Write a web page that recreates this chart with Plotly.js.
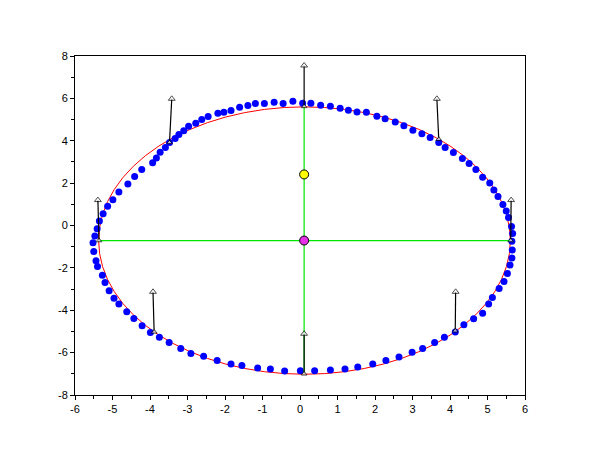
<!DOCTYPE html>
<html>
<head>
<meta charset="utf-8">
<script src="https://cdn.plot.ly/plotly-3.0.1.min.js"></script>
<style>html,body{margin:0;padding:0;background:#fff;}#chart{width:600px;height:452px;}</style>
</head>
<body>
<div id="chart"></div>
<script>
// Noisy sample points (blue)
var dotX = [5.65,5.67,5.64,5.56,5.50,5.41,5.28,5.17,5.06,4.87,4.69,4.51,4.33,4.09,3.87,3.70,3.47,3.25,3.01,2.77,
2.54,2.27,2.05,1.77,1.52,1.29,1.07,0.81,0.55,0.29,0.07,-0.19,-0.45,-0.69,-0.95,-1.19,-1.39,-1.61,-1.84,-2.03,
-2.19,-2.45,-2.62,-2.78,-2.97,-3.10,-3.23,-3.33,-3.48,-3.59,-3.73,-3.83,-3.93,-4.22,-4.41,-4.59,-4.83,-4.99,-5.13,-5.25,
-5.35,-5.41,-5.47,-5.52,-5.50,-5.44,-5.40,-5.27,-5.20,-5.09,-4.96,-4.83,-4.62,-4.43,-4.21,-3.99,-3.75,-3.49,-3.18,-2.91,
-2.57,-2.21,-1.84,-1.55,-1.13,-0.79,-0.41,0.01,0.39,0.81,1.20,1.54,1.94,2.29,2.64,2.99,3.27,3.59,3.85,4.14,
4.37,4.63,4.87,5.03,5.13,5.31,5.44,5.53,5.60,5.65,5.66];
var dotY = [-0.74,-0.38,-0.05,0.38,0.69,0.99,1.37,1.68,2.01,2.28,2.64,2.93,3.16,3.45,3.68,3.92,4.15,4.33,4.50,4.71,
4.88,5.04,5.16,5.35,5.36,5.44,5.53,5.63,5.68,5.77,5.77,5.86,5.76,5.82,5.76,5.76,5.66,5.58,5.43,5.35,
5.30,5.15,5.00,4.83,4.69,4.47,4.30,4.11,3.92,3.68,3.46,3.18,2.96,2.64,2.31,1.96,1.58,1.21,0.91,0.56,
0.21,-0.15,-0.49,-0.82,-1.23,-1.66,-1.94,-2.35,-2.69,-3.08,-3.43,-3.71,-4.07,-4.39,-4.73,-5.05,-5.27,-5.52,-5.80,-6.04,
-6.17,-6.37,-6.54,-6.61,-6.72,-6.77,-6.87,-6.86,-6.85,-6.82,-6.77,-6.68,-6.54,-6.37,-6.21,-5.98,-5.80,-5.52,-5.28,-5.03,
-4.68,-4.40,-4.14,-3.71,-3.40,-2.97,-2.64,-2.26,-1.87,-1.53,-1.16];

// Fitted ellipse (red)
var ellipseCX = 0.12, ellipseCY = -0.71, ellipseA = 5.49, ellipseB = 6.31;
// Special points
var centerPt = [0.11, -0.71];
var yellowPt = [0.11, 2.41];

// Arrows (base on ellipse -> tip)
var arrowBaseX = [0.11, 3.70, 5.62, 4.14, 0.11, -3.89, -5.36, -3.48];
var arrowBaseY = [5.62, 4.07, -0.71, -4.97, -7.00, -5.02, -0.71, 3.92];
var arrowTipX  = [0.11, 3.65, 5.63, 4.15, 0.11, -3.92, -5.39, -3.42];
var arrowTipY  = [7.55, 5.98, 1.20, -3.13, -5.11, -3.13, 1.20, 5.98];

// Tick labels
var xTickVals = [-6,-5,-4,-3,-2,-1,0,1,2,3,4,5,6];
var xTickText = ["-6","-5","-4","-3","-2","-1","0","1","2","3","4","5","6"];
var yTickVals = [-8,-6,-4,-2,0,2,4,6,8];
var yTickText = ["-8","-6","-4","-2","0","2","4","6","8"];

var traces = [];
traces.push({x:dotX, y:dotY, mode:'markers', type:'scatter',
  marker:{color:'#0000ff', size:7, line:{width:0}}, hoverinfo:'skip'});
// green axes of ellipse
traces.push({x:[ellipseCX-ellipseA, ellipseCX+ellipseA], y:[centerPt[1], centerPt[1]], mode:'lines',
  line:{color:'#00e600', width:1.2}, hoverinfo:'skip'});
traces.push({x:[centerPt[0], centerPt[0]], y:[ellipseCY+ellipseB, ellipseCY-ellipseB], mode:'lines',
  line:{color:'#00e600', width:1.2}, hoverinfo:'skip'});
for (var i=0;i<arrowBaseX.length;i++){
  traces.push({x:[arrowBaseX[i], arrowTipX[i]], y:[arrowBaseY[i], arrowTipY[i]], mode:'lines+markers',
    line:{color:'#000', width:1.2},
    marker:{symbol:'triangle-up', size:[5,6], color:'#fff', line:{color:'#000', width:1}}, hoverinfo:'skip'});
}
traces.push({x:[yellowPt[0]], y:[yellowPt[1]], mode:'markers',
  marker:{color:'#ffff00', size:9, line:{color:'#000', width:1}}, hoverinfo:'skip'});
traces.push({x:[centerPt[0]], y:[centerPt[1]], mode:'markers',
  marker:{color:'#e632e6', size:9, line:{color:'#000', width:1}}, hoverinfo:'skip'});

var axisCommon = {showgrid:false, zeroline:false, showline:true, linecolor:'#000', linewidth:1, mirror:true,
  ticks:'outside', ticklen:4, tickcolor:'#000', tickwidth:1,
  tickfont:{family:'Liberation Sans, Arial, sans-serif', size:11, color:'#000'}, fixedrange:true};

var layout = {
  width:600, height:452, showlegend:false,
  paper_bgcolor:'#fff', plot_bgcolor:'#fff',
  margin:{l:75, r:75, t:56, b:57},
  xaxis:Object.assign({}, axisCommon, {range:[-6,6], tickmode:'array', tickvals:xTickVals, ticktext:xTickText,
    minor:{ticks:'outside', ticklen:3, dtick:0.5, tick0:0, tickcolor:'#000'}}),
  yaxis:Object.assign({}, axisCommon, {range:[-8,8], tickmode:'array', tickvals:yTickVals, ticktext:yTickText,
    minor:{ticks:'outside', ticklen:3, dtick:1, tick0:0, tickcolor:'#000'}}),
  shapes:[{type:'circle', xref:'x', yref:'y', layer:'below',
    x0:ellipseCX-ellipseA, x1:ellipseCX+ellipseA, y0:ellipseCY-ellipseB, y1:ellipseCY+ellipseB,
    line:{color:'#ff0000', width:1}}]
};

Plotly.newPlot('chart', traces, layout, {displayModeBar:false, staticPlot:true});
</script>
</body>
</html>
